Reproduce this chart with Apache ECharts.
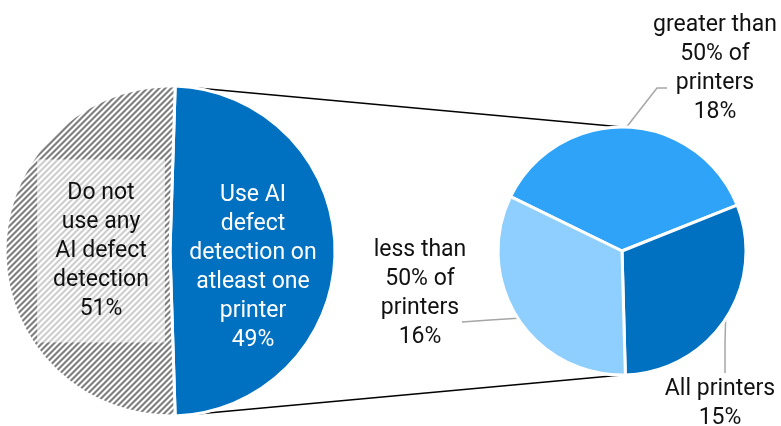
<!DOCTYPE html>
<html>
<head>
<meta charset="utf-8">
<script src="https://cdn.jsdelivr.net/npm/echarts@6/dist/echarts.min.js"></script>
<style>
  html, body { margin: 0; padding: 0; background: #fff; }
  #chart { width: 781px; height: 426px; }
</style>
</head>
<body>
<div id="chart"></div>
<script>
// Main split: who uses AI defect detection at all
const mainCategories = [
  'Use AI\ndefect\ndetection on\natleast one\nprinter',
  'Do not\nuse any\nAI defect\ndetection'
];
const mainValues = [49, 51];

// Breakdown of the users, shown in the secondary pie
const detailCategories = [
  'greater than\n50% of\nprinters',
  'All printers',
  'less than\n50% of\nprinters'
];
const detailValues = [18, 15, 16];

// Geometry of the two pies
const MAIN = { cx: 170, cy: 251, r: 165 };
const DETAIL = { cx: 622, cy: 251, r: 124 };
const DETAIL_START = 154;

const FONT = 'Roboto, "Noto Sans", sans-serif';
const FONT_SIZE = 23;
const LINE_H = 29;

// Diagonal hatch tile for the "do not use" slice
function hatchTile() {
  const p = 6;
  const c = document.createElement('canvas');
  c.width = c.height = p;
  const ctx = c.getContext('2d');
  ctx.fillStyle = '#ffffff';
  ctx.fillRect(0, 0, p, p);
  ctx.strokeStyle = '#7f7f7f';
  ctx.lineWidth = 3 / Math.SQRT2;
  for (let k = -1; k <= 2; k++) {
    const s = 1.5 + k * p;
    ctx.beginPath();
    ctx.moveTo(s + 3, -3);
    ctx.lineTo(s - p - 3, p + 3);
    ctx.stroke();
  }
  return c;
}

const mainTotal = mainValues.reduce((a, b) => a + b, 0);
// The highlighted slice is centred on the right-hand side
const mainStart = mainValues[0] / mainTotal * 180;

// Label centres relative to each pie centre
const mainLabelOffsets = [[83, 17], [-69, 0]];
const detailLabelOffsets = [[93, -182], [98, 153], [-202, 43]];
// Leader line bends, relative to the label centre: [elbow, end]
const detailLeaders = [
  [[-58, 19], [-48, 19]],
  [[5, -59], [5, -31]],
  [[70, 26], [42, 28]]
];

function sliceMid(values, start, i) {
  const total = values.reduce((a, b) => a + b, 0);
  let before = 0;
  for (let j = 0; j < i; j++) before += values[j];
  const deg = start - (before + values[i] / 2) / total * 360;
  return deg * Math.PI / 180;
}

const chart = echarts.init(document.getElementById('chart'), null, { renderer: 'canvas' });

const hatch = { image: hatchTile(), repeat: 'repeat' };

// Connector lines from the highlighted slice to the secondary pie
const half = mainValues[0] / mainTotal * Math.PI;
const topStart = [MAIN.cx + MAIN.r * Math.cos(half), MAIN.cy - MAIN.r * Math.sin(half)];
const botStart = [MAIN.cx + MAIN.r * Math.cos(half), MAIN.cy + MAIN.r * Math.sin(half)];

const option = {
  animation: false,
  backgroundColor: '#ffffff',
  graphic: [
    {
      type: 'line', z: 0,
      shape: { x1: topStart[0], y1: topStart[1], x2: DETAIL.cx, y2: DETAIL.cy - DETAIL.r },
      style: { stroke: '#000000', lineWidth: 1.5 }
    },
    {
      type: 'line', z: 0,
      shape: { x1: botStart[0], y1: botStart[1], x2: DETAIL.cx, y2: DETAIL.cy + DETAIL.r },
      style: { stroke: '#000000', lineWidth: 1.5 }
    }
  ],
  series: [
    {
      type: 'pie',
      center: [MAIN.cx, MAIN.cy],
      radius: MAIN.r,
      startAngle: mainStart,
      clockwise: true,
      silent: true,
      data: mainCategories.map((name, i) => ({
        name,
        value: mainValues[i],
        itemStyle: i === 0 ? { color: '#0070C0' } : { color: hatch },
        label: i === 0
          ? { color: '#ffffff' }
          : { color: '#111111', backgroundColor: 'rgba(255,255,255,0.62)', padding: [24, 16, 14, 16] }
      })),
      itemStyle: { borderColor: '#ffffff', borderWidth: 3 },
      label: {
        show: true,
        position: 'inside',
        formatter: '{b}\n{c}%',
        fontFamily: FONT,
        fontSize: FONT_SIZE,
        lineHeight: LINE_H,
        align: 'center'
      },
      labelLine: { show: false },
      labelLayout: function (params) {
        const o = mainLabelOffsets[params.dataIndex];
        return { x: MAIN.cx + o[0], y: MAIN.cy + o[1], align: 'center', verticalAlign: 'middle' };
      }
    },
    {
      type: 'pie',
      center: [DETAIL.cx, DETAIL.cy],
      radius: DETAIL.r,
      startAngle: DETAIL_START,
      clockwise: true,
      silent: true,
      data: detailCategories.map((name, i) => ({
        name,
        value: detailValues[i],
        itemStyle: { color: ['#2EA3F7', '#0070C0', '#8FCFFF'][i] }
      })),
      itemStyle: { borderColor: '#ffffff', borderWidth: 3 },
      label: {
        show: true,
        position: 'outside',
        formatter: '{b}\n{c}%',
        fontFamily: FONT,
        fontSize: FONT_SIZE,
        lineHeight: LINE_H,
        color: '#111111',
        align: 'center',
        overflow: 'none'
      },
      labelLine: {
        show: true,
        length: 10,
        length2: 10,
        lineStyle: { color: '#a6a6a6', width: 1.5 }
      },
      labelLayout: function (params) {
        const i = params.dataIndex;
        const o = detailLabelOffsets[i];
        const lx = DETAIL.cx + o[0];
        const ly = DETAIL.cy + o[1];
        const a = sliceMid(detailValues, DETAIL_START, i);
        const anchor = [DETAIL.cx + DETAIL.r * Math.cos(a), DETAIL.cy - DETAIL.r * Math.sin(a)];
        const lead = detailLeaders[i];
        return {
          x: lx, y: ly, align: 'center', verticalAlign: 'middle',
          labelLinePoints: [
            anchor,
            [lx + lead[0][0], ly + lead[0][1]],
            [lx + lead[1][0], ly + lead[1][1]]
          ]
        };
      }
    }
  ]
};

chart.setOption(option);
</script>
</body>
</html>
